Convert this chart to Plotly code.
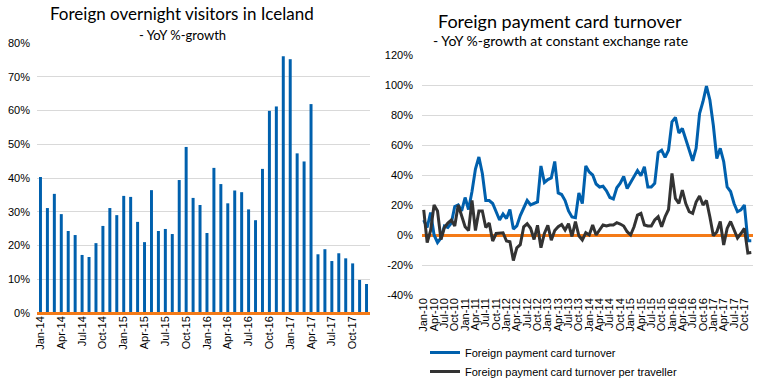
import plotly.graph_objects as go

# ---------------- data ----------------
MONTHS = ["Jan", "Feb", "Mar", "Apr", "May", "Jun", "Jul", "Aug", "Sep", "Oct", "Nov", "Dec"]
left_years = [14, 15, 16, 17]
right_years = [10, 11, 12, 13, 14, 15, 16, 17]
left_months = [f"{m}-{y}" for y in left_years for m in MONTHS]
right_months = [f"{m}-{y}" for y in right_years for m in MONTHS]

# Foreign overnight visitors, YoY % growth (Jan-14 .. Dec-17)
visitors_growth = [40.3, 31.1, 35.3, 29.3, 24.3, 23.1, 17.2, 16.6, 20.7, 25.8, 31.1, 29.0,
                   34.7, 34.4, 27.0, 21.0, 36.4, 24.3, 24.9, 23.4, 39.4, 49.2, 34.1, 32.0,
                   23.7, 43.0, 38.2, 32.5, 36.3, 35.8, 30.7, 27.5, 42.7, 59.9, 61.2, 76.1,
                   75.2, 47.3, 44.9, 61.9, 17.4, 18.9, 15.4, 17.7, 16.2, 14.7, 9.8, 8.6]

# Foreign payment card turnover, YoY % growth (Jan-10 .. Dec-17)
card_turnover = [10, 5, 15, 0, -5, -2, 6, 5, 8, 19,
                 20, 16, 25, 17, 29, 44, 52, 41, 23, 23,
                 21, 15, 10, 14, 11, 17, 4, 6, 13, 18,
                 23, 20, 21, 22, 46, 35, 37, 38, 49, 28,
                 27, 23, 16, 12, 11.5, 28, 21, 46, 42, 40,
                 34, 32, 32.5, 29.5, 25, 24, 31.5, 34.5, 39, 31,
                 35, 39.5, 43, 39.5, 45.5, 32, 32, 34.4, 55, 56.5,
                 51.8, 56.5, 75.5, 78.4, 68, 71, 64.4, 56.7, 49.5, 57.8,
                 81, 89, 99.3, 90, 73, 51, 57.8, 49, 32, 29,
                 21, 15.5, 16.7, 20, -3.8, -3.8]

card_per_traveller = [16.7, -5, 3, 20, 16, -3, 5, 8, 10, 6,
                      20, 12, 5.5, 3, 23, 3, 16, 16, 5, 8,
                      -4, 1, 1, 1.5, -4, -4.5, -17, -8.5, -6.5, 5.5,
                      7.5, 4.5, -3, 6.5, -8.5, 1, 6.5, -3.5, 3, 5.5,
                      7, 3.3, 7.5, -1, 9, -0.5, -3.3, 1.5, 0, 6.7,
                      0, 3.3, 6.7, 6, 6.7, 6.7, 8.2, 7.3, 6, 2.2,
                      0, 5.5, 13.3, 14.4, 6.7, 6, 6, 10, 12.2, 5.5,
                      12.2, 17, 41, 24.4, 21, 30, 21, 15.5, 14.4, 22,
                      26, 20, 23, 12, -0.5, 2, 9, -6.7, 4.4, 9,
                      3.3, -2, 1, 4.4, -12, -11.7]

left_yticks = [0, 10, 20, 30, 40, 50, 60, 70, 80]
right_yticks = [-40, -20, 0, 20, 40, 60, 80, 100, 120]

# ---------------- style ----------------
BLUE = "#0060AD"
DARK = "#333333"
ORANGE = "#F47A17"
GRID = "#D9D9D9"
TICKFONT = dict(family="Liberation Sans, Arial, sans-serif", size=11, color="#000000")
TITLEFONT = "Lato, Carlito, Calibri, sans-serif"

W, H = 757, 379

fig = go.Figure()
fig.add_trace(go.Bar(x=left_months, y=visitors_growth, xaxis="x", yaxis="y",
                     marker=dict(color=BLUE, line=dict(width=0)), showlegend=False))
fig.add_trace(go.Scatter(x=right_months, y=card_turnover, xaxis="x2", yaxis="y2",
                         mode="lines", line=dict(color=BLUE, width=3),
                         name="Foreign payment card turnover"))
fig.add_trace(go.Scatter(x=right_months, y=card_per_traveller, xaxis="x2", yaxis="y2",
                         mode="lines", line=dict(color=DARK, width=3),
                         name="Foreign payment card turnover per traveller"))

common_x = dict(type="category", tickangle=-90, showgrid=False, zeroline=False,
                showline=False, ticks="", tickfont=TICKFONT, automargin=False)

fig.update_layout(
    width=W, height=H,
    margin=dict(l=0, r=0, t=0, b=0, autoexpand=False),
    paper_bgcolor="white", plot_bgcolor="white",
    bargap=0.57,
    xaxis=dict(domain=[37 / W, 370 / W], anchor="y",
               tickvals=left_months[::3], ticktext=left_months[::3],
               range=[-0.5, len(left_months) - 0.5], **common_x),
    yaxis=dict(domain=[(H - 313) / H, (H - 43) / H], anchor="x", range=[0, 80],
               tickvals=left_yticks, ticktext=[f"{v}%" for v in left_yticks],
               showgrid=True, gridcolor=GRID, gridwidth=1,
               zeroline=True, zerolinecolor=ORANGE, zerolinewidth=3,
               zerolinelayer="above traces", automargin=False,
               showline=False, ticks="", tickfont=TICKFONT, ticklabelstandoff=6),
    xaxis2=dict(domain=[422 / W, 753 / W], anchor="y2",
                tickvals=right_months[::3], ticktext=right_months[::3],
                range=[-0.5, len(right_months) - 0.5], **common_x),
    yaxis2=dict(domain=[(H - 295) / H, (H - 55) / H], anchor="x2", range=[-40, 120],
                tickvals=right_yticks, ticktext=[f"{v}%" for v in right_yticks],
                showgrid=True, gridcolor=GRID, gridwidth=1,
                zeroline=True, zerolinecolor=ORANGE, zerolinewidth=2.5,
                automargin=False,
                showline=False, ticks="", tickfont=TICKFONT, ticklabelstandoff=8),
    legend=dict(x=425 / W, y=-7 / H, xanchor="left", yanchor="bottom",
                orientation="v", font=TICKFONT, bgcolor="rgba(0,0,0,0)",
                tracegroupgap=0, itemwidth=30),
    annotations=[
        dict(text="Foreign overnight visitors in Iceland", x=181.5 / W, y=(H - 14) / H,
             xref="paper", yref="paper", showarrow=False, xanchor="center", yanchor="middle",
             font=dict(family=TITLEFONT, size=17, color="#000000")),
        dict(text="- YoY %-growth", x=182 / W, y=(H - 35) / H,
             xref="paper", yref="paper", showarrow=False, xanchor="center", yanchor="middle",
             font=dict(family=TITLEFONT, size=13, color="#000000")),
        dict(text="Foreign payment card turnover", x=560 / W, y=(H - 21) / H,
             xref="paper", yref="paper", showarrow=False, xanchor="center", yanchor="middle",
             font=dict(family=TITLEFONT, size=18, color="#000000")),
        dict(text="- YoY %-growth at constant exchange rate", x=560 / W, y=(H - 41) / H,
             xref="paper", yref="paper", showarrow=False, xanchor="center", yanchor="middle",
             font=dict(family=TITLEFONT, size=14, color="#000000")),
    ],
)

fig.write_html("out.html", config={"displayModeBar": False},
               post_script="document.body.style.margin='0';")
